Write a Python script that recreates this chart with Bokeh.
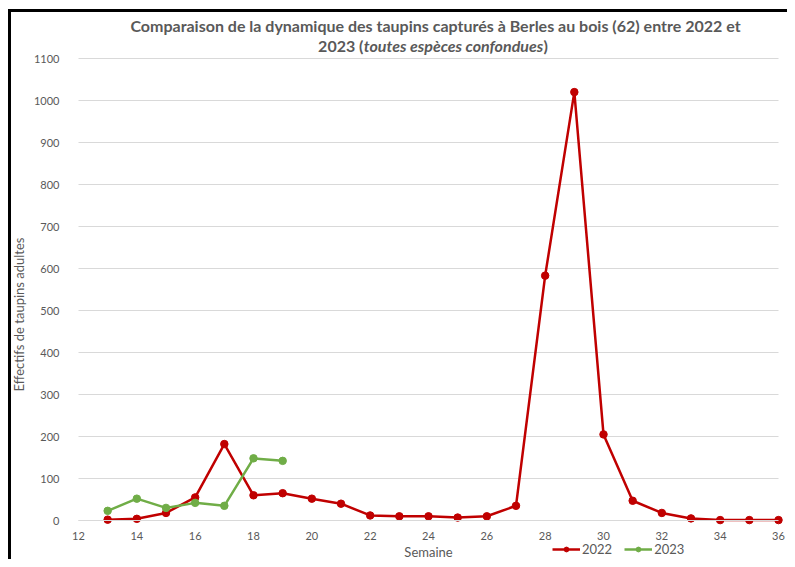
import math
from bokeh.plotting import figure
from bokeh.models import Range1d, FixedTicker, Label, Legend, LegendItem, ColumnDataSource
from bokeh.embed import file_html
from bokeh.resources import INLINE

weeks_2022 = [13, 14, 15, 16, 17, 18, 19, 20, 21, 22, 23, 24, 25, 26, 27, 28, 29, 30, 31, 32, 33, 34, 35, 36]
values_2022 = [2, 4, 18, 55, 182, 60, 65, 52, 40, 12, 10, 10, 7, 10, 35, 583, 1020, 205, 47, 18, 5, 1, 1, 1]
weeks_2023 = [13, 14, 15, 16, 17, 18, 19]
values_2023 = [23, 52, 30, 42, 35, 148, 142]
x_ticks = list(range(12, 37, 2))
y_ticks = list(range(0, 1101, 100))

RED = "#C00000"
GREEN = "#70AD47"
GREY = "#595959"
GRID = "#D9D9D9"
FONT = "Lato"

W, H = 787, 559
FL, FR, FT, FB = 78, 778, 58, 520   # plot-area edges in canvas pixels
X0, X1, Y0, Y1 = 12, 36, 0, 1100
SX = (FR - FL) / (X1 - X0)
SY = (FB - FT) / (Y1 - Y0)

def dx(px):
    return X0 + (px - FL) / SX

def dy(py):
    return Y0 + (FB - py) / SY

# the frame covers the whole canvas so that titles, legend and axis titles are inside it
p = figure(width=W, height=H, output_backend="svg", toolbar_location=None,
           x_range=Range1d(dx(0), dx(W)), y_range=Range1d(dy(H), dy(0)), min_border=0)
p.outline_line_color = None
p.border_fill_color = None
p.background_fill_color = None
p.styles = {"box-shadow": "inset 8px 9px 0 0 white, inset 11px 12px 0 0 black", "background-color": "white"}
p.xgrid.visible = False
p.ygrid.visible = False

# horizontal gridlines across the plot area only
p.segment(x0=X0, x1=X1, y0=y_ticks, y1=y_ticks, line_color=GRID, line_width=1)

p.xaxis.ticker = FixedTicker(ticks=x_ticks)
p.yaxis.ticker = FixedTicker(ticks=y_ticks)
p.xaxis.fixed_location = Y0
p.yaxis.fixed_location = X0
p.xaxis.bounds = (X0, X1)
p.yaxis.bounds = (Y0, Y1)
for ax in (p.xaxis, p.yaxis):
    ax.major_tick_line_color = None
    ax.minor_tick_line_color = None
    ax.major_label_text_font = FONT
    ax.major_label_text_font_size = "11px"
    ax.major_label_text_color = GREY
p.yaxis.axis_line_color = None
p.xaxis.axis_line_color = GRID
p.yaxis.major_label_standoff = 13
p.xaxis.major_label_standoff = 5

src22 = ColumnDataSource(dict(x=weeks_2022, y=values_2022))
src23 = ColumnDataSource(dict(x=weeks_2023, y=values_2023))
l22 = p.line("x", "y", source=src22, line_color=RED, line_width=2.5)
c22 = p.scatter("x", "y", source=src22, size=7.5, fill_color=RED, line_color=RED)
l23 = p.line("x", "y", source=src23, line_color=GREEN, line_width=2.5)
c23 = p.scatter("x", "y", source=src23, size=7.5, fill_color=GREEN, line_color=GREEN)

legend = Legend(items=[LegendItem(label="2022", renderers=[l22, c22]),
                       LegendItem(label="2023", renderers=[l23, c23])],
                orientation="horizontal", location=(552, H - 557),
                border_line_color=None, background_fill_alpha=0,
                label_text_font=FONT, label_text_font_size="13px", label_text_color=GREY,
                glyph_width=28, glyph_height=12, spacing=12, label_standoff=2, padding=4, margin=0)
p.add_layout(legend, "center")

text_kw = dict(text_color=GREY, text_font=FONT, text_baseline="middle")
p.add_layout(Label(x=dx(428), y=dy(551), text="Semaine", text_align="center",
                   text_font_size="13px", **text_kw))
p.add_layout(Label(x=dx(18), y=dy(314), text="Effectifs de taupins adultes", text_align="center",
                   angle=math.pi / 2, text_font_size="13px", **text_kw))
title_kw = dict(text_font_size="16px", **text_kw)
p.add_layout(Label(x=dx(435), y=dy(25),
                   text="Comparaison de la dynamique des taupins capturés à Berles au bois (62) entre 2022 et",
                   text_align="center", text_font_style="bold", **title_kw))
p.add_layout(Label(x=dx(363), y=dy(45), text="2023 (", text_align="right", text_font_style="bold", **title_kw))
p.add_layout(Label(x=dx(453), y=dy(45), text="toutes espèces confondues", text_align="center",
                   text_font_style="bold italic", **title_kw))
p.add_layout(Label(x=dx(543), y=dy(45), text=")", text_align="left", text_font_style="bold", **title_kw))

open("out.html", "w").write(file_html(p, INLINE))
